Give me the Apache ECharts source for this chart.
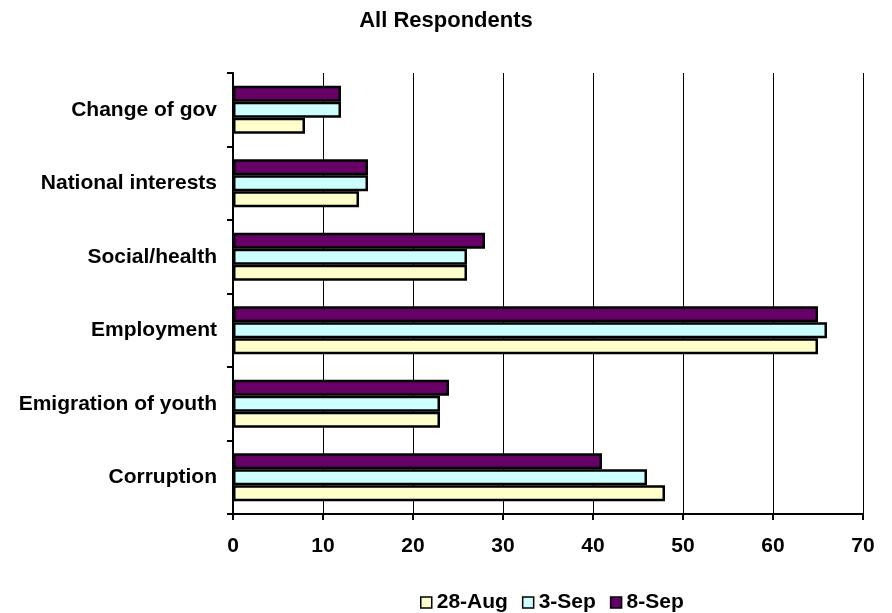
<!DOCTYPE html>
<html>
<head>
<meta charset="utf-8">
<script src="https://cdn.jsdelivr.net/npm/echarts@6/dist/echarts.min.js"></script>
<style>html,body{margin:0;padding:0;background:#fff}#c{width:892px;height:613px}</style>
</head>
<body>
<div id="c"></div>
<script>
var categories = ['Corruption', 'Emigration of youth', 'Employment', 'Social/health', 'National interests', 'Change of gov'];
var seriesNames = ['28-Aug', '3-Sep', '8-Sep'];
var aug28 = [48, 23, 65, 26, 14, 8];
var sep3 = [46, 23, 66, 26, 15, 12];
var sep8 = [41, 24, 65, 28, 15, 12];
var xTicks = [0, 10, 20, 30, 40, 50, 60, 70];

var colors = ['#FFFFCC', '#CCFFFF', '#660066'];
var values = [aug28, sep3, sep8];
var font = 'Arial, "Liberation Sans", sans-serif';

// ECharts lays bar series top-to-bottom in a horizontal band, so add the
// latest date first to get 8-Sep on top and 28-Aug at the bottom.
var order = [2, 1, 0];

var chart = echarts.init(document.getElementById('c'), null, {renderer: 'canvas'});
chart.setOption({
  animation: false,
  backgroundColor: '#ffffff',
  title: {
    text: 'All Respondents',
    left: 'center',
    top: 5,
    textStyle: {fontFamily: font, fontWeight: 'bold', fontSize: 22, color: '#000'}
  },
  legend: {
    data: seriesNames,
    left: 415,
    top: 587,
    itemWidth: 11,
    itemHeight: 11,
    itemGap: 14,
    icon: 'rect',
    textStyle: {fontFamily: font, fontWeight: 'bold', fontSize: 21, color: '#000'},
    itemStyle: {borderColor: '#000', borderWidth: 1.5}
  },
  grid: {left: 233, right: 29, top: 73, bottom: 99, containLabel: false},
  xAxis: {
    type: 'value',
    min: xTicks[0],
    max: xTicks[xTicks.length - 1],
    interval: 10,
    axisLine: {show: true, lineStyle: {color: '#000', width: 2}},
    axisTick: {show: true, length: 6, lineStyle: {color: '#000', width: 2}},
    axisLabel: {margin: 22, fontFamily: font, fontWeight: 'bold', fontSize: 21, color: '#000'},
    splitLine: {show: true, lineStyle: {color: '#000', width: 1}}
  },
  yAxis: {
    type: 'category',
    data: categories,
    axisLine: {show: true, lineStyle: {color: '#000', width: 2}},
    axisTick: {show: true, length: 6, lineStyle: {color: '#000', width: 2}},
    axisLabel: {margin: 16, fontFamily: font, fontWeight: 'bold', fontSize: 21, color: '#000'},
    splitLine: {show: false}
  },
  series: order.map(function (i) {
    return {
      name: seriesNames[i],
      type: 'bar',
      data: values[i],
      barWidth: 16,
      barGap: '0%',
      itemStyle: {color: colors[i], borderColor: '#000', borderWidth: 2.5},
      emphasis: {disabled: true}
    };
  })
});
</script>
</body>
</html>
